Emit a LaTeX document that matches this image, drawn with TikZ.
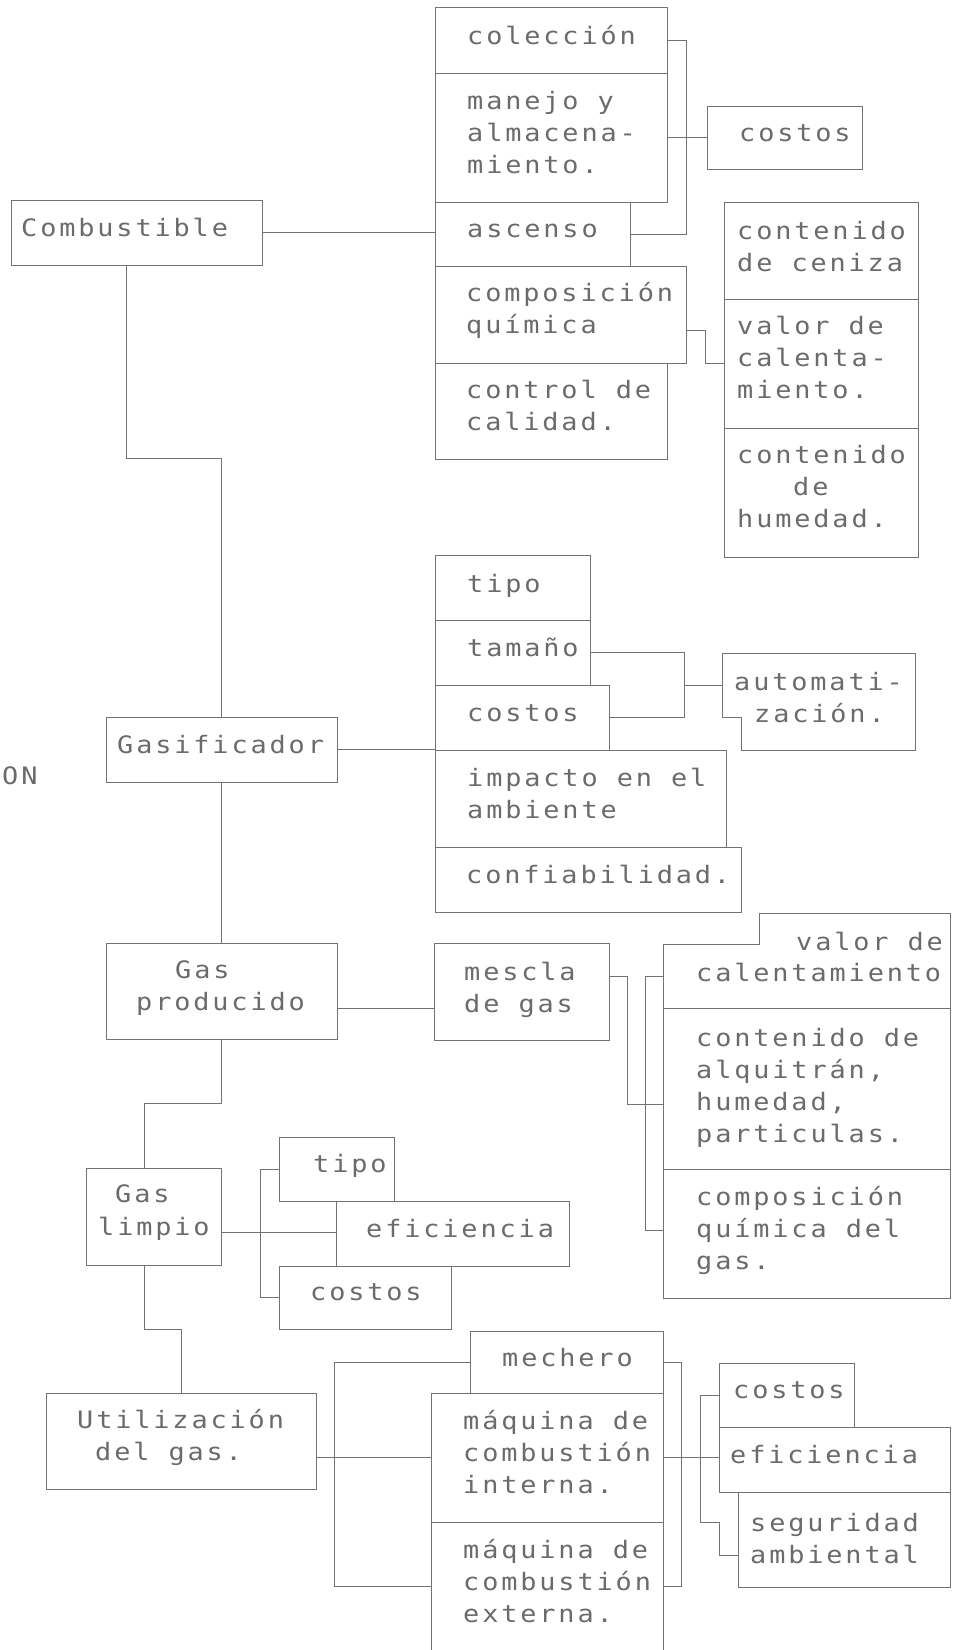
\documentclass[tikz,border=0pt]{standalone}
\usepackage{fontspec}
\newfontfamily\plotfont[FakeStretch=1.12,LetterSpace=12]{DejaVu Sans Mono}
\definecolor{ink}{gray}{0.45}
\definecolor{inktext}{gray}{0.42}
\tikzset{
  boxst/.style={draw=ink, line width=0.9pt, rectangle, inner sep=0pt, outer sep=0pt},
  conn/.style={draw=ink, line width=0.9pt},
  lbl/.style={font=\plotfont\fontsize{24}{32}\selectfont, text=inktext, inner sep=0pt, anchor=base west},
}
% box given by its top-left and bottom-right corners (y grows downwards)
\newcommand\bx[5]{\node[boxst, anchor=north west, minimum width={#4-#2}, minimum height={#5-#3}] (#1) at (#2,#3) {};}
% lines of text, one baseline every 32pt
\newcommand\lbls[4]{\foreach[count=\i] \s in {#4}{\node[lbl] (#1-\i) at (#2,{#3+32*(\i-1)}) {\s};}}
\begin{document}
\begin{tikzpicture}[x=1pt,y=-1pt]
\fill[white] (0,0) rectangle (957,1650);
\useasboundingbox (0,0) rectangle (957,1650);

% ---------- Combustible ----------
\bx{comb}{11}{200}{262}{265}
\bx{col}{435}{7}{667}{73}
\bx{man}{435}{73}{667}{202}
\bx{cost1}{707}{106}{862}{169}
\bx{asc}{435}{202}{630}{266}
\bx{comp}{435}{266}{686}{363}
\bx{ctrl}{435}{363}{667}{459}
\bx{cen}{724}{202}{918}{299}
\bx{val1}{724}{299}{918}{428}
\bx{hum}{724}{428}{918}{557}

\draw[conn] (comb.east) -- (comb.east -| asc.west);
\draw[conn] (col.east) -- ++(19,0) |- (asc.east);
\draw[conn] (man.east) -- (cost1.west);
\draw[conn] ([yshift=-16pt]comp.east) -- ++(19,0) |- (val1.west);

\lbls{tcomb}{21}{236}{Combustible}
\lbls{tcol}{467}{44}{colección}
\lbls{tman}{467}{109}{manejo y, almacena-, miento.}
\lbls{tcost1}{739}{141}{costos}
\lbls{tasc}{467}{237}{ascenso}
\lbls{tcomp}{466}{301}{composición, química}
\lbls{tctrl}{466}{398}{control de, calidad.}
\lbls{tcen}{737}{239}{contenido, de ceniza}
\lbls{tval1}{737}{334}{valor de, calenta-, miento.}
\lbls{thuma}{737}{463}{contenido}
\lbls{thumb}{793}{495}{de}
\lbls{thumc}{737}{527}{humedad.}

% ---------- Gasificador ----------
\bx{gasif}{106}{717}{337}{782}
\bx{tipo1}{435}{555}{590}{620}
\bx{tam}{435}{620}{590}{685}
\bx{cost2}{435}{685}{609}{750}
\bx{imp}{435}{750}{726}{847}
\bx{conf}{435}{847}{741}{912}
\draw[conn] (722,653) -- (915,653) -- (915,750) -- (741,750) -- (741,717) -- (722,717) -- cycle;
\coordinate (autow) at (722,685);

\draw[conn] ([xshift=-10pt]comb.south) -- ++(0,193) -| (gasif.north);
\draw[conn] (gasif.east) -- (gasif.east -| imp.west);
\draw[conn] (tam.east) -- ++(94,0) |- (cost2.east);
\draw[conn] (autow) -- ++(-38,0);

\lbls{tgas}{117}{753}{Gasificador}
\lbls{ton}{2}{784}{ON}
\lbls{ttipo1}{467}{592}{tipo}
\lbls{ttam}{467}{656}{tamaño}
\lbls{tcost2}{467}{721}{costos}
\lbls{timp}{467}{786}{impacto en el, ambiente}
\lbls{tconf}{466}{883}{confiabilidad.}
\lbls{tautoa}{734}{690}{automati-}
\lbls{tautob}{754}{722}{zación.}

% ---------- Gas producido ----------
\bx{gprod}{106}{943}{337}{1039}
\bx{mesc}{434}{943}{609}{1040}
\draw[conn] (663,944) -- (759,944) -- (759,913) -- (950,913) -- (950,1008) -- (663,1008) -- cycle;
\coordinate (val2w) at (663,976);
\bx{alq}{663}{1008}{950}{1169}
\bx{compg}{663}{1169}{950}{1298}
\coordinate (alqin) at (663,1104);

\draw[conn] (gasif.south) -- (gprod.north);
\draw[conn] ([yshift=-17pt]gprod.east) -- ([yshift=-17pt]gprod.east -| mesc.west);
\draw[conn] ([yshift=15pt]mesc.east) -- ++(18,0) |- (alqin);
\draw[conn] (val2w) -- ++(-18,0) |- ([yshift=3pt]compg.west);

\lbls{tgpa}{175}{978}{Gas}
\lbls{tgpb}{136}{1010}{producido}
\lbls{tmes}{464}{980}{mescla, de gas}
\lbls{tval2a}{796}{950}{valor de}
\lbls{tval2b}{696}{981}{calentamiento}
\lbls{talq}{696}{1046}{contenido de, {alquitrán,}, {humedad,}, particulas.}
\lbls{tcompg}{696}{1205}{composición, química del, gas.}

% ---------- Gas limpio ----------
\bx{glim}{86}{1168}{221}{1265}
\bx{tipo2}{279}{1137}{394}{1201}
\bx{efi1}{336}{1201}{569}{1266}
\bx{cost3}{279}{1266}{451}{1329}

\draw[conn] (gprod.south) -- ++(0,64) -| ([xshift=-9.5pt]glim.north);
\draw[conn] ([yshift=-16pt]glim.east) -- ([yshift=-16pt]glim.east -| efi1.west);
\draw[conn] (tipo2.west) -- ++(-19,0) |- (cost3.west);

\lbls{tgla}{115}{1202}{Gas}
\lbls{tglb}{98}{1235}{limpio}
\lbls{ttipo2}{313}{1172}{tipo}
\lbls{tefi1}{366}{1237}{eficiencia}
\lbls{tcost3}{310}{1300}{costos}

% ---------- Utilizacion del gas ----------
\bx{util}{46}{1393}{316}{1489}
\bx{mech}{470}{1331}{663}{1393}
\bx{mint}{431}{1393}{663}{1522}
\bx{mext}{431}{1522}{663}{1655}
\bx{cost4}{719}{1363}{854}{1427}
\bx{efi2}{719}{1427}{950}{1492}
\bx{seg}{738}{1492}{950}{1587}
\coordinate (segin) at (738,1555);

\draw[conn] ([xshift=-9.5pt]glim.south) -- ++(0,64) -| (util.north);
\draw[conn] ([yshift=-16pt]util.east) -- ([yshift=-16pt]util.east -| mint.west);
\draw[conn] (mech.west) -- ++(-136,0) |- ([yshift=2pt]mext.west);
\draw[conn] (mech.east) -- ++(18,0) |- ([yshift=2pt]mext.east);
\draw[conn] (mint.east) -- (mint.east -| efi2.west);
\draw[conn] (cost4.west) -- ++(-19,0) |- (719,1522) |- (segin);

\lbls{tuta}{77}{1428}{Utilización}
\lbls{tutb}{95}{1460}{del gas.}
\lbls{tmech}{502}{1366}{mechero}
\lbls{tmint}{463}{1429}{máquina de, combustión, interna.}
\lbls{tmext}{463}{1558}{máquina de, combustión, externa.}
\lbls{tcost4}{733}{1398}{costos}
\lbls{tefi2}{730}{1463}{eficiencia}
\lbls{tseg}{750}{1531}{seguridad, ambiental}
\end{tikzpicture}
\end{document}
